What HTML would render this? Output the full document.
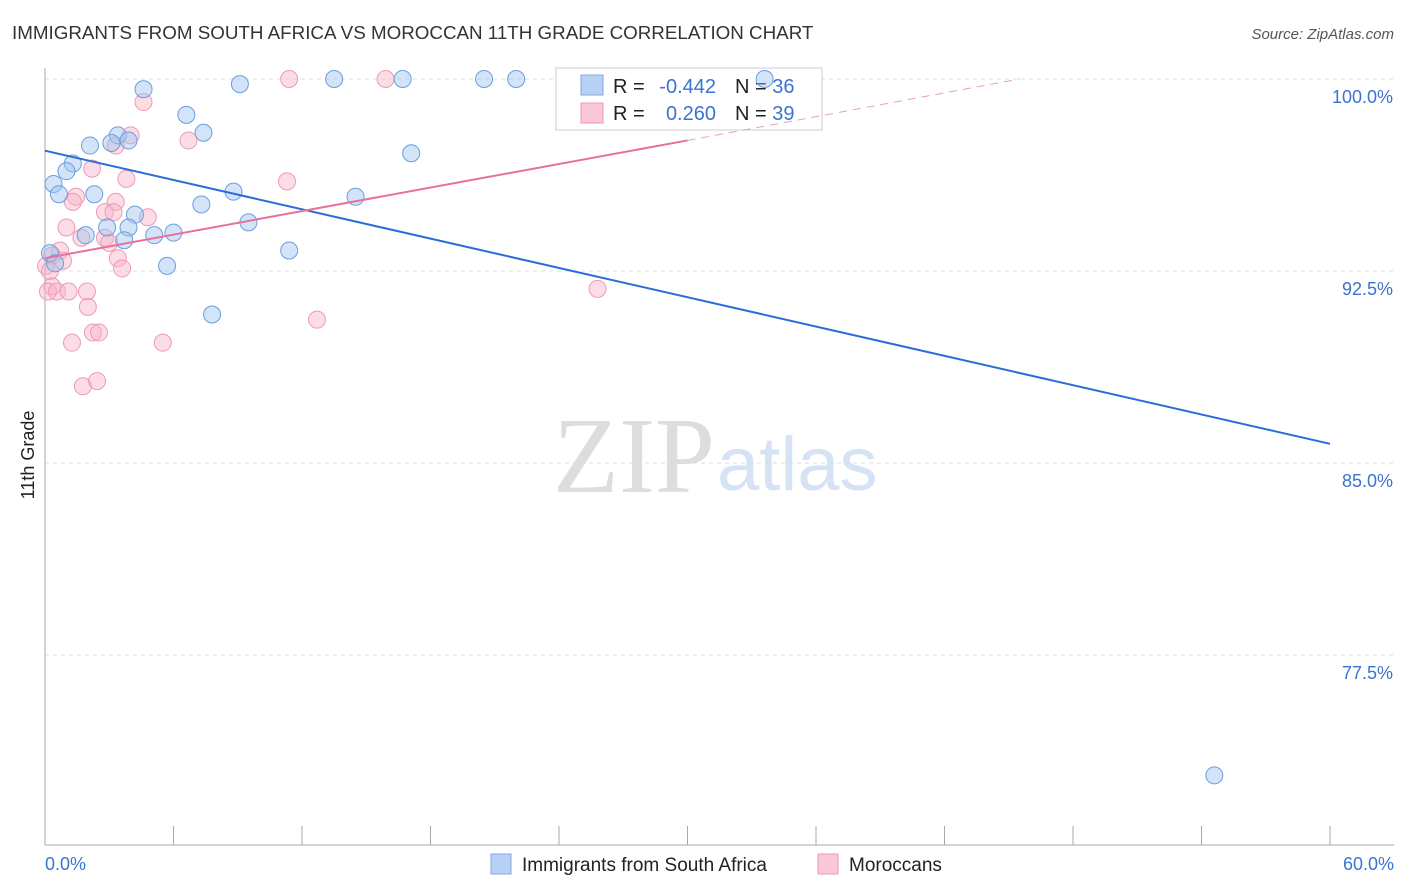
<!DOCTYPE html>
<html><head><meta charset="utf-8"><style>
body{margin:0;background:#fff;font-family:"Liberation Sans",sans-serif;}
svg{display:block}
</style></head><body>
<svg id="c" width="1406" height="892" xmlns="http://www.w3.org/2000/svg">
<text x="12" y="39" font-size="18.8" fill="#333">IMMIGRANTS FROM SOUTH AFRICA VS MOROCCAN 11TH GRADE CORRELATION CHART</text>
<text x="1394" y="39" font-size="15" fill="#555" font-style="italic" text-anchor="end">Source: ZipAtlas.com</text>
<text x="715" y="492" font-size="108" fill="#ddd" text-anchor="end" font-family="Liberation Serif,serif">ZIP</text>
<text x="717" y="490" font-size="76" fill="#d5e3f5">atlas</text>
<g id="grid"></g><g id="axes"></g>
<rect x="556" y="68" width="266" height="62" fill="#fff" stroke="#ccc"/>
<rect x="581" y="75" width="22" height="20" fill="#b7d1f5" stroke="#7fa8e3"/>
<rect x="581" y="103" width="22" height="20" fill="#fbc8d7" stroke="#ee9ab4"/>
<text x="613" y="93" font-size="20" fill="#222">R =</text>
<text x="716" y="93" font-size="20" fill="#3a74d0" text-anchor="end">-0.442</text>
<text x="735" y="93" font-size="20" fill="#222">N = <tspan fill="#3a74d0">36</tspan></text>
<text x="613" y="120" font-size="20" fill="#222">R =</text>
<text x="716" y="120" font-size="20" fill="#3a74d0" text-anchor="end">0.260</text>
<text x="735" y="120" font-size="20" fill="#222">N = <tspan fill="#3a74d0">39</tspan></text>
<g id="pts"></g><g id="lines"></g>
<text transform="translate(34,455) rotate(-90)" font-size="18" fill="#222" text-anchor="middle">11th Grade</text>
<rect x="491" y="854" width="20" height="20" fill="#b7d1f5" stroke="#7fa8e3"/>
<text x="522" y="871" font-size="19" fill="#222">Immigrants from South Africa</text>
<rect x="818" y="854" width="20" height="20" fill="#fbc8d7" stroke="#ee9ab4"/>
<text x="849" y="871" font-size="19" fill="#222">Moroccans</text>
</svg>
<script>
const yTicks=[100,92.5,85,77.5];
const yTickLabels=["100.0%","92.5%","85.0%","77.5%"];
const blueX=[4.6,9.1,13.5,16.7,20.5,22.0,33.6,6.6,7.4,3.4,3.9,3.1,2.1,17.1,1.3,1.0,0.4,0.65,2.3,8.8,14.5,7.3,4.2,9.5,2.9,3.9,1.9,5.1,6.0,3.7,11.4,5.7,0.23,0.47,7.8,54.6];
const blueY=[99.6,99.8,100,100,100,100,100,98.6,97.9,97.8,97.6,97.5,97.4,97.1,96.7,96.4,95.9,95.5,95.5,95.6,95.4,95.1,94.7,94.4,94.2,94.2,93.9,93.9,94.0,93.7,93.3,92.7,93.2,92.8,90.8,72.8];
const pinkX=[11.4,15.9,4.6,4.0,6.7,3.3,2.2,3.8,11.3,1.45,1.3,3.3,2.8,3.2,4.8,1.0,1.7,2.8,3.0,0.7,0.33,0.84,3.4,0.05,0.23,3.6,0.33,0.14,0.56,1.96,1.1,2.0,2.24,2.52,1.26,5.5,12.7,25.8,1.77,2.43];
const pinkY=[100,100,99.1,97.8,97.6,97.4,96.5,96.1,96.0,95.4,95.2,95.2,94.8,94.8,94.6,94.2,93.8,93.8,93.6,93.3,93.1,92.9,93.0,92.7,92.5,92.6,91.9,91.7,91.7,91.7,91.7,91.1,90.1,90.1,89.7,89.7,90.6,91.8,88.0,88.2];
const blueLine=[0,97.2,60,85.75];
const pinkLine=[0,93.0,30,97.6,45.5,100];
const X=v=>45+v/60*1285, Y=v=>79+(100-v)*25.6;
const ns="http://www.w3.org/2000/svg";
function mk(t,a,p){const e=document.createElementNS(ns,t);for(const k in a)e.setAttribute(k,a[k]);p.appendChild(e);return e;}
const grid=document.getElementById('grid'),axes=document.getElementById('axes'),pts=document.getElementById('pts'),lines=document.getElementById('lines');
yTicks.forEach((t,i)=>{
 const l=mk('line',{x1:45,x2:1394,y1:Y(t),y2:Y(t),stroke:'#ddd','stroke-dasharray':'4,4'},grid);
 
 
 const tx=mk('text',{x:1393,y:Y(t)+24,'font-size':18,fill:'#3a74d0','text-anchor':'end'},axes);
 tx.textContent=yTickLabels[i];
 
 
});
let a=mk('line',{x1:45,x2:45,y1:68,y2:845,stroke:'#aaa'},axes);


a=mk('line',{x1:45,x2:1394,y1:845,y2:845,stroke:'#aaa'},axes);


for(let i=0;i<=10;i++){const t=mk('line',{x1:X(i*6),x2:X(i*6),y1:826,y2:845,stroke:'#aaa'},axes);
 
 }
[[0,"0.0%",'start',45],[60,"60.0%",'end',1394]].forEach(d=>{const t=mk('text',{x:d[3],y:870,'font-size':18,fill:'#3a74d0','text-anchor':d[2]},axes);t.textContent=d[1];
 
 });
pinkX.forEach((x,i)=>{const c=mk('circle',{cx:X(x),cy:Y(pinkY[i]),r:8.5,fill:'rgba(248,180,200,0.45)',stroke:'#ee9ab4','stroke-width':1},pts);
 
 });
blueX.forEach((x,i)=>{const c=mk('circle',{cx:X(x),cy:Y(blueY[i]),r:8.5,fill:'rgba(160,195,240,0.45)',stroke:'#6a9ee0','stroke-width':1},pts);
 
 });
let L=mk('line',{x1:X(blueLine[0]),y1:Y(blueLine[1]),x2:X(blueLine[2]),y2:Y(blueLine[3]),stroke:'#2a6dd6','stroke-width':2},lines);


L=mk('line',{x1:X(pinkLine[0]),y1:Y(pinkLine[1]),x2:X(pinkLine[2]),y2:Y(pinkLine[3]),stroke:'#e8719a','stroke-width':2},lines);


L=mk('line',{x1:X(pinkLine[2]),y1:Y(pinkLine[3]),x2:X(pinkLine[4]),y2:Y(pinkLine[5]),stroke:'#e8a0b8','stroke-width':1,'stroke-dasharray':'8,6'},lines);


</script>
</body></html>
